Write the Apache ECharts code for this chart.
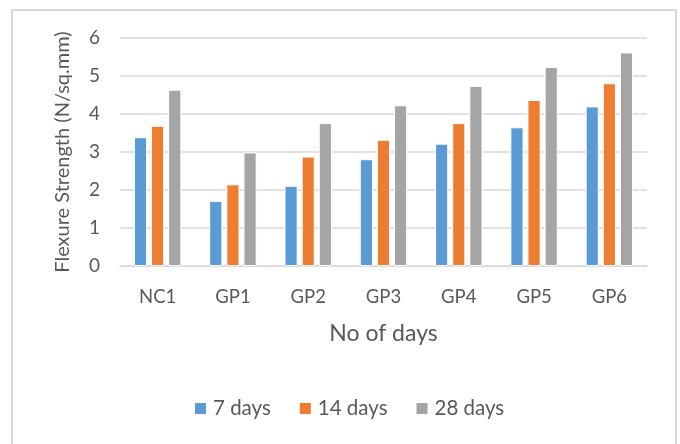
<!DOCTYPE html>
<html><head><meta charset="utf-8">
<script src="https://cdn.jsdelivr.net/npm/echarts@6/dist/echarts.min.js"></script>
<style>html,body{margin:0;padding:0;background:#fff}#c{width:680px;height:444px}</style>
</head><body><div id="c"></div>
<script>
const categories = ["NC1","GP1","GP2","GP3","GP4","GP5","GP6"];
const days7  = [3.39, 1.71, 2.11, 2.81, 3.22, 3.65, 4.20];
const days14 = [3.69, 2.15, 2.88, 3.32, 3.76, 4.37, 4.81];
const days28 = [4.64, 2.99, 3.76, 4.23, 4.74, 5.24, 5.62];
const seriesNames = ["7 days","14 days","28 days"];
const colors = ["#5B9BD5","#ED7D31","#A5A5A5"];
const font = "Lato, 'Open Sans', sans-serif";
const chart = echarts.init(document.getElementById('c'), null, {renderer:'canvas'});
const mk = (name, data, i) => ({
  name, type:'bar', data, barGap:'30%', barCategoryGap:'37%',
  itemStyle:{color:colors[i], borderColor:'#ffffff', borderWidth:1},
  emphasis:{disabled:true}, animation:false
});
chart.setOption({
  animation:false,
  graphic:[{type:'rect', shape:{x:12,y:10,width:664,height:440}, style:{fill:'none', stroke:'#d9d9d9', lineWidth:2}, silent:true}],
  grid:{left:120, right:33, top:38, bottom:178},
  legend:{top:398, left:193, padding:0, itemWidth:13, itemHeight:13, itemGap:27,
    icon:'rect', textStyle:{fontSize:20.5, color:'#595959', fontFamily:font, padding:[0,0,0,1]},
    data:seriesNames},
  xAxis:{type:'category', data:categories,
    name:'No of days', nameLocation:'middle', nameGap:56,
    nameTextStyle:{fontSize:23, color:'#595959', fontFamily:font},
    axisLine:{lineStyle:{color:'#d9d9d9', width:1.5}}, axisTick:{show:false},
    axisLabel:{fontSize:18.5, color:'#595959', fontFamily:font, margin:22}},
  yAxis:{type:'value', min:0, max:6, interval:1,
    name:'Flexure Strength (N/sq.mm)', nameLocation:'middle', nameGap:47, nameRotate:90,
    nameTextStyle:{fontSize:20, color:'#595959', fontFamily:font},
    axisLine:{show:false}, axisTick:{show:false},
    splitLine:{lineStyle:{color:'#d9d9d9', width:1.5}},
    axisLabel:{fontSize:19, color:'#595959', fontFamily:font, margin:20}},
  series:[mk(seriesNames[0], days7, 0), mk(seriesNames[1], days14, 1), mk(seriesNames[2], days28, 2)]
});
</script></body></html>
